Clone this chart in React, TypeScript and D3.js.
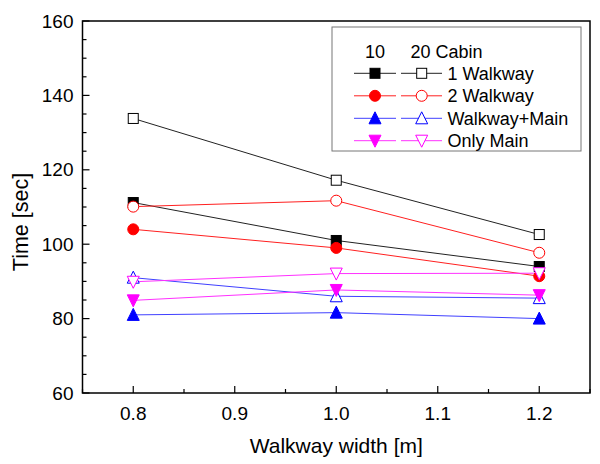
import React from "react";
import * as d3 from "d3";

const widths = [0.8, 1.0, 1.2];
const xTicks = [0.8, 0.9, 1.0, 1.1, 1.2];
const yTicks = [60, 80, 100, 120, 140, 160];

const seriesNames = ["1 Walkway", "2 Walkway", "Walkway+Main", "Only Main"];
const seriesColors = ["#000000", "#ff0000", "#0000ff", "#ff00ff"];
const lineColors = ["#222222", "#ff2020", "#4040ff", "#ff30ff"];
const seriesShapes = ["square", "circle", "triUp", "triDown"];

const walkway1Cabin10 = [111.2, 101.0, 94.0];
const walkway1Cabin20 = [133.8, 117.2, 102.6];
const walkway2Cabin10 = [104.0, 99.0, 91.4];
const walkway2Cabin20 = [110.1, 111.7, 97.7];
const walkMainCabin10 = [81.0, 81.6, 80.0];
const walkMainCabin20 = [91.0, 86.0, 85.5];
const onlyMainCabin10 = [84.9, 87.7, 86.3];
const onlyMainCabin20 = [89.9, 92.1, 92.2];

const cabin10 = [walkway1Cabin10, walkway2Cabin10, walkMainCabin10, onlyMainCabin10];
const cabin20 = [walkway1Cabin20, walkway2Cabin20, walkMainCabin20, onlyMainCabin20];

const FONT = "'Liberation Sans', Arial, sans-serif";

function Marker({ shape, x, y, color, filled }: { shape: string; x: number; y: number; color: string; filled: boolean }) {
  const fill = filled ? color : "#ffffff";
  const sw = 1;
  if (shape === "square") {
    const s = 10;
    return <rect x={x - s / 2} y={y - s / 2} width={s} height={s} fill={fill} stroke={color} strokeWidth={sw} />;
  }
  if (shape === "circle") {
    return <circle cx={x} cy={y} r={5.5} fill={fill} stroke={color} strokeWidth={sw} />;
  }
  const w = 6;
  const h = 5.5;
  if (shape === "triUp") {
    return <polygon points={`${x - w},${y + h} ${x + w},${y + h} ${x},${y - h - 1}`} fill={fill} stroke={color} strokeWidth={sw} />;
  }
  return <polygon points={`${x - w},${y - h} ${x + w},${y - h} ${x},${y + h + 1}`} fill={fill} stroke={color} strokeWidth={sw} />;
}

export default function App() {
  const left = 82.5, right = 590, top = 21, bottom = 393;
  const x = d3.scaleLinear().domain([0.75, 1.25]).range([left, right]);
  const y = d3.scaleLinear().domain([60, 160]).range([bottom, top]);
  const line = d3
    .line<number>()
    .x((_, i) => x(widths[i]))
    .y((d) => y(d));

  const xMinor = d3.range(0.75, 1.2501, 0.05).filter((v) => !xTicks.some((t) => Math.abs(t - v) < 1e-6));
  const yMinor = d3.range(60, 160.01, 5).filter((v) => v % 20 !== 0);

  const legX = 332, legY = 27, legW = 249, legH = 124;
  const rowY = [73.3, 95.8, 118.3, 140.7];

  return (
    <svg width={600} height={464} style={{ position: "absolute", left: 0, top: 0, background: "#fff" }} fontFamily={FONT}>
      <rect x={0} y={0} width={600} height={464} fill="#fff" />
      {/* series */}
      {seriesNames.map((n, si) => (
        <g key={n}>
          <path d={line(cabin10[si]) || ""} fill="none" stroke={lineColors[si]} strokeWidth={1} />
          <path d={line(cabin20[si]) || ""} fill="none" stroke={lineColors[si]} strokeWidth={1} />
        </g>
      ))}
      {seriesNames.map((n, si) => (
        <g key={n + "m"}>
          {cabin10[si].map((v, i) => (
            <Marker key={"a" + i} shape={seriesShapes[si]} x={x(widths[i])} y={y(v)} color={seriesColors[si]} filled={true} />
          ))}
          {cabin20[si].map((v, i) => (
            <Marker key={"b" + i} shape={seriesShapes[si]} x={x(widths[i])} y={y(v)} color={seriesColors[si]} filled={false} />
          ))}
        </g>
      ))}
      {/* frame */}
      <rect x={left} y={top} width={right - left} height={bottom - top} fill="none" stroke="#000" strokeWidth={1.5} />
      {/* x ticks */}
      {xTicks.map((t) => (
        <g key={"xt" + t}>
          <line x1={x(t)} x2={x(t)} y1={bottom} y2={bottom - 7} stroke="#000" strokeWidth={1.2} />
          <text x={x(t)} y={420} textAnchor="middle" fontSize={19} fill="#000">
            {d3.format(".1f")(t)}
          </text>
        </g>
      ))}
      {xMinor.map((t) => (
        <line key={"xm" + t} x1={x(t)} x2={x(t)} y1={bottom} y2={bottom - 4} stroke="#000" strokeWidth={1.2} />
      ))}
      {/* y ticks */}
      {yTicks.map((t) => (
        <g key={"yt" + t}>
          <line x1={left} x2={left + 7} y1={y(t)} y2={y(t)} stroke="#000" strokeWidth={1.2} />
          <text x={73.5} y={y(t) + 6.5} textAnchor="end" fontSize={19} fill="#000">
            {t}
          </text>
        </g>
      ))}
      {yMinor.map((t) => (
        <line key={"ym" + t} x1={left} x2={left + 4} y1={y(t)} y2={y(t)} stroke="#000" strokeWidth={1.2} />
      ))}
      {/* axis titles */}
      <text x={(left + right) / 2} y={453} textAnchor="middle" fontSize={21} fill="#000">
        Walkway width [m]
      </text>
      <text transform={`translate(28,222) rotate(-90)`} textAnchor="middle" fontSize={21.5} fill="#000">
        Time [sec]
      </text>
      {/* legend */}
      <rect x={legX} y={legY} width={legW} height={legH} fill="#fff" stroke="#777" strokeWidth={1} />
      <text x={375} y={57.5} textAnchor="middle" fontSize={18} fill="#000">10</text>
      <text x={410.5} y={57.5} fontSize={18} fill="#000">20 Cabin</text>
      {seriesNames.map((n, si) => (
        <g key={"lg" + n}>
          <line x1={354} x2={396} y1={rowY[si]} y2={rowY[si]} stroke={lineColors[si]} strokeWidth={1} />
          <line x1={401} x2={442} y1={rowY[si]} y2={rowY[si]} stroke={lineColors[si]} strokeWidth={1} />
          <Marker shape={seriesShapes[si]} x={375} y={rowY[si]} color={seriesColors[si]} filled={true} />
          <Marker shape={seriesShapes[si]} x={421.7} y={rowY[si]} color={seriesColors[si]} filled={false} />
          <text x={447.5} y={rowY[si] + 6.5} fontSize={18} fill="#000">{n}</text>
        </g>
      ))}
    </svg>
  );
}
